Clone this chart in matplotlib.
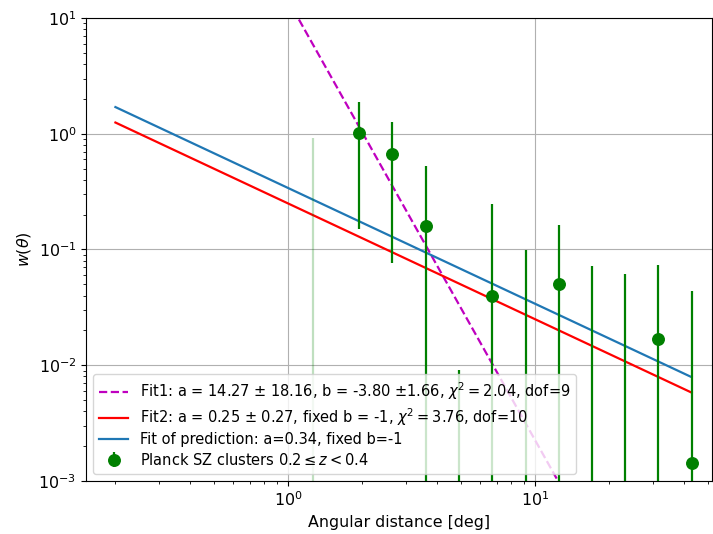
import numpy as np
import matplotlib
matplotlib.use('Agg')
import matplotlib.pyplot as plt

# binned angular correlation, Planck SZ clusters 0.2 <= z < 0.4
theta = [1.94, 2.64, 3.61, 4.94, 6.73, 9.17, 12.5, 17.0, 23.2, 31.6, 43.1]
w = [1.02, 0.667, 0.158, -0.02, 0.040, -0.05, 0.0503, -0.03, -0.04, 0.0169, 0.00142]
w_err = [0.87, 0.59, 0.364, 0.0291, 0.208, 0.149, 0.113, 0.1024, 0.1013, 0.0559, 0.0426]

# faint point (not in legend)
theta_faint = [1.265]
w_faint = [-0.1]
w_err_faint = [1.01]

# fit parameters: w = a * theta^b
fit1_a, fit1_b = 14.27, -3.80
fit2_a, fit2_b = 0.25, -1.0
pred_a, pred_b = 0.34, -1.0
theta_min, theta_max = 0.2, 43.1

x = np.logspace(np.log10(theta_min), np.log10(theta_max), 200)

plt.rcParams['font.size'] = 11.4
plt.rcParams['xtick.labelsize'] = 11.4
plt.rcParams['ytick.labelsize'] = 11.4

fig = plt.figure(figsize=(7.13, 5.34), dpi=100)
ax = fig.add_axes([0.1206, 0.0993, 0.8774, 0.8670])

ax.plot(x, fit1_a * x**fit1_b, '--', color='m', lw=1.6,
        label=r'Fit1: a = 14.27 $\pm$ 18.16, b = -3.80 $\pm$1.66, $\chi^2 = 2.04$, dof=9')
ax.plot(x, fit2_a * x**fit2_b, '-', color='r', lw=1.6,
        label=r'Fit2: a = 0.25 $\pm$ 0.27, fixed b = -1, $\chi^2 = 3.76$, dof=10')
ax.plot(x, pred_a * x**pred_b, '-', color='tab:blue', lw=1.6,
        label='Fit of prediction: a=0.34, fixed b=-1')

ax.errorbar(theta_faint, w_faint, yerr=w_err_faint, fmt='o', color='g',
            ms=8.3, elinewidth=1.6, alpha=0.25)
ax.errorbar(theta, w, yerr=w_err, fmt='o', color='g', ms=8.3, elinewidth=1.6,
            label=r'Planck SZ clusters $0.2 \leq z < 0.4$')

ax.set_xscale('log')
ax.set_yscale('log')
ax.set_xlim(0.152, 51.9)
ax.set_ylim(1e-3, 10)
ax.grid(True, which='major')
ax.set_xlabel('Angular distance [deg]')
ax.set_ylabel(r'$w(\theta)$')
ax.legend(loc='lower left', fontsize=10.5, labelspacing=0.3)

fig.savefig('out.png', dpi=100)
